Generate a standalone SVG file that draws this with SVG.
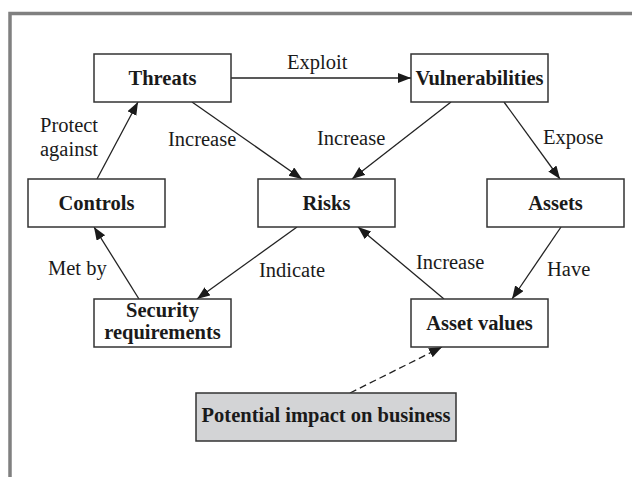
<svg xmlns="http://www.w3.org/2000/svg" width="632" height="477" viewBox="0 0 632 477">
  <style>
    .box { fill: #ffffff; stroke: #333333; stroke-width: 1.5; }
    .shaded { fill: #d3d4d6; }
    .node { font-family: "Liberation Serif", "Times New Roman", serif; font-size: 20.5px; font-weight: bold; fill: #1a1a1a; text-anchor: middle; }
    .label { font-family: "Liberation Serif", "Times New Roman", serif; font-size: 20.5px; fill: #1a1a1a; }
    .link { fill: none; stroke: #222222; stroke-width: 1.3; marker-end: url(#arrow); }
    .dashed { stroke-dasharray: 7 4; }
  </style>
  <defs>
    <marker id="arrow" markerUnits="userSpaceOnUse" markerWidth="14" markerHeight="12" refX="13" refY="5" orient="auto">
      <path d="M0,0 L13,5 L0,10 Z" fill="#1a1a1a"/>
    </marker>
  </defs>

  <rect width="632" height="477" fill="#ffffff"/>
  <!-- page frame -->
  <path d="M10,477 V13.5 H632" fill="none" stroke="#808080" stroke-width="3.5"/>

  <g id="connectors">
    <line class="link" x1="231" y1="78" x2="411" y2="78" stroke="#444444" stroke-width="1.6"/>
    <line class="link" x1="192" y1="102" x2="302" y2="179"/>
    <line class="link" x1="97" y1="179" x2="138" y2="102"/>
    <line class="link" x1="451" y1="102" x2="352" y2="179"/>
    <line class="link" x1="504" y1="102" x2="560" y2="179"/>
    <line class="link" x1="139" y1="299" x2="94" y2="227"/>
    <line class="link" x1="297" y1="227" x2="197" y2="299"/>
    <line class="link" x1="444" y1="299" x2="358" y2="227"/>
    <line class="link" x1="561" y1="227" x2="512" y2="299"/>
    <line class="link dashed" x1="350" y1="393" x2="442" y2="347"/>
  </g>

  <g id="connector-labels">
    <text class="label" x="287" y="69">Exploit</text>
    <text class="label" x="40" y="132">Protect</text>
    <text class="label" x="40" y="156">against</text>
    <text class="label" x="168" y="146">Increase</text>
    <text class="label" x="317" y="145">Increase</text>
    <text class="label" x="543" y="144">Expose</text>
    <text class="label" x="48" y="275">Met by</text>
    <text class="label" x="259" y="277">Indicate</text>
    <text class="label" x="416" y="269">Increase</text>
    <text class="label" x="547" y="276">Have</text>
  </g>

  <g id="threats">
    <rect class="box" x="94" y="54" width="137" height="48"/>
    <text class="node" x="162.5" y="85">Threats</text>
  </g>
  <g id="vulnerabilities">
    <rect class="box" x="411" y="54" width="137" height="48"/>
    <text class="node" x="479.5" y="85">Vulnerabilities</text>
  </g>
  <g id="controls">
    <rect class="box" x="28" y="179" width="137" height="48"/>
    <text class="node" x="96.5" y="210">Controls</text>
  </g>
  <g id="risks">
    <rect class="box" x="258" y="179" width="137" height="48"/>
    <text class="node" x="326.5" y="210">Risks</text>
  </g>
  <g id="assets">
    <rect class="box" x="487" y="179" width="137" height="48"/>
    <text class="node" x="555.5" y="210">Assets</text>
  </g>
  <g id="security-requirements">
    <rect class="box" x="94" y="299" width="137" height="48"/>
    <text class="node" x="162.5" y="317">Security</text>
    <text class="node" x="162.5" y="339">requirements</text>
  </g>
  <g id="asset-values">
    <rect class="box" x="411" y="299" width="137" height="48"/>
    <text class="node" x="479.5" y="330">Asset values</text>
  </g>
  <g id="potential-impact">
    <rect class="box shaded" x="196" y="393" width="260" height="48"/>
    <text class="node" x="326" y="422">Potential impact on business</text>
  </g>
</svg>
